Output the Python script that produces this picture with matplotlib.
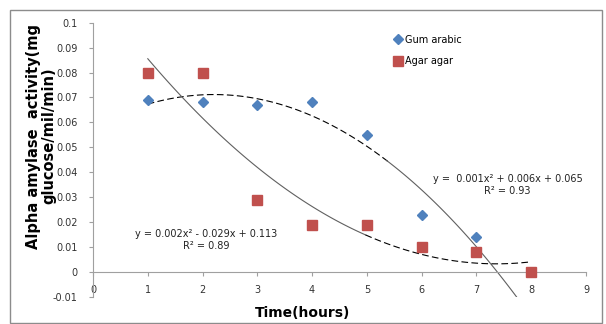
import numpy as np
import matplotlib.pyplot as plt
from matplotlib.patches import Rectangle

# data
hours_gum = [1, 2, 3, 4, 5, 6, 7]
gum_arabic = [0.069, 0.068, 0.067, 0.068, 0.055, 0.023, 0.014]
hours_agar = [1, 2, 3, 4, 5, 6, 7, 8]
agar_agar = [0.080, 0.080, 0.029, 0.019, 0.019, 0.010, 0.008, 0.000]

gum_eq = "y =  0.001x² + 0.006x + 0.065\nR² = 0.93"
agar_eq = "y = 0.002x² - 0.029x + 0.113\nR² = 0.89"

fig = plt.figure(figsize=(6.06, 3.24), dpi=100)
fig.patches.append(Rectangle((10/606, 0.002), 592/606, 1 - 10/324 - 0.002,
                             transform=fig.transFigure, fill=False,
                             edgecolor='#8c8c8c', linewidth=1))
ax = fig.add_axes([0.1535, 0.0833, 0.8135, 0.8467])

# polynomial trendlines (2nd order), like Excel
xs = np.linspace(1, 8, 200)
pg = np.polyfit(hours_gum, gum_arabic, 2)
pa = np.polyfit(hours_agar, agar_agar, 2)
yg = np.polyval(pg, xs)
ya = np.polyval(pa, xs)
ax.plot(xs[xs <= 5.4], yg[xs <= 5.4], color='black', lw=0.8, ls=(0, (6, 3)), zorder=2)
ax.plot(xs[xs >= 5.35], yg[xs >= 5.35], color='#606060', lw=0.8, zorder=2)
ax.plot(xs[xs <= 5.0], ya[xs <= 5.0], color='#606060', lw=0.8, zorder=2)
ax.plot(xs[xs >= 4.95], ya[xs >= 4.95], color='black', lw=0.8, ls=(0, (6, 3)), zorder=2)

ax.plot(hours_gum, gum_arabic, ls='none', marker='D', ms=5,
        color='#4F81BD', label='Gum arabic', zorder=3)
ax.plot(hours_agar, agar_agar, ls='none', marker='s', ms=7.5,
        color='#C0504D', label='Agar agar', zorder=3)

ax.set_xlim(0, 9)
ax.set_ylim(-0.01, 0.1)
ax.set_xticks(range(0, 10))
yt = np.round(np.arange(-0.01, 0.101, 0.01), 2)
ax.set_yticks(yt)
ax.set_yticklabels(['%g' % v for v in yt])

for s in ['top', 'right']:
    ax.spines[s].set_visible(False)
ax.spines['left'].set_position(('data', 0))
ax.spines['bottom'].set_position(('data', 0))
ax.spines['left'].set_color('#a0a0a0')
ax.spines['bottom'].set_color('#a0a0a0')
ax.tick_params(axis='both', colors='#a0a0a0', labelcolor='#333333',
               labelsize=7, length=3)
ax.tick_params(axis='x', pad=6)
ax.tick_params(axis='y', pad=8)

ax.legend(loc='upper left', bbox_to_anchor=(0.6, 0.97), frameon=False,
          fontsize=7, handletextpad=0.3, labelspacing=1.2, handlelength=1,
          borderaxespad=0)

ax.text(7.57, 0.0348, gum_eq, fontsize=7, ha='center', va='center',
        color='#222222', linespacing=1.3)
ax.text(2.06, 0.0128, agar_eq, fontsize=7, ha='center', va='center',
        color='#222222', linespacing=1.3)

fig.text(0.5, 0.035, 'Time(hours)', ha='center', va='center',
         fontsize=10, fontweight='bold')
fig.text(0.068, 0.58, 'Alpha amylase  activity(mg\nglucose/mil/min)', ha='center',
         va='center', rotation=90, fontsize=10.5, fontweight='bold',
         linespacing=1.05)

fig.savefig('out.png', dpi=100)
